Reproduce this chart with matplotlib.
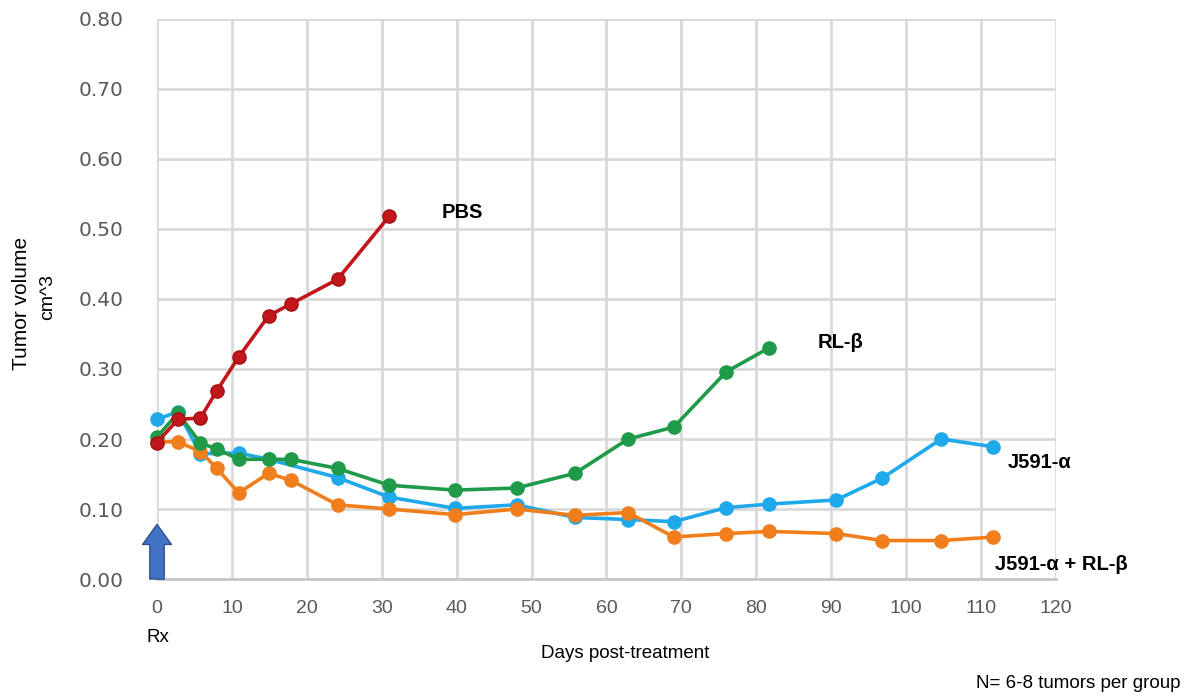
import matplotlib
matplotlib.use("Agg")
import matplotlib.pyplot as plt

# Data
days_pbs = [0, 2.8, 5.8, 8, 10.9, 14.9, 17.9, 24.1, 31]
pbs = [0.195, 0.228, 0.230, 0.269, 0.317, 0.376, 0.393, 0.428, 0.518]

days_rl = [0, 2.8, 5.8, 8, 10.9, 14.9, 17.9, 24.1, 31, 39.8, 48, 55.8, 62.9, 69, 76, 81.7]
rl = [0.203, 0.237, 0.194, 0.186, 0.171, 0.171, 0.171, 0.158, 0.134, 0.127, 0.130,
      0.151, 0.200, 0.217, 0.296, 0.330]

days_j = [0, 2.8, 5.8, 10.9, 14.9, 24.1, 31, 39.8, 48, 55.8, 62.9, 69, 76, 81.7,
          90.7, 96.8, 104.7, 111.6]
j591 = [0.228, 0.239, 0.179, 0.180, 0.171, 0.145, 0.117, 0.101, 0.106, 0.088, 0.085,
        0.082, 0.102, 0.107, 0.113, 0.144, 0.200, 0.189]

days_combo = [0, 2.8, 5.8, 8, 10.9, 14.9, 17.9, 24.1, 31, 39.8, 48, 55.8, 62.9, 69,
              76, 81.7, 90.7, 96.8, 104.7, 111.6]
combo = [0.196, 0.196, 0.182, 0.158, 0.123, 0.151, 0.141, 0.106, 0.100, 0.092, 0.100,
         0.091, 0.095, 0.060, 0.065, 0.068, 0.065, 0.055, 0.055, 0.060]

x_ticks = list(range(0, 121, 10))
y_ticks = [0.0, 0.1, 0.2, 0.3, 0.4, 0.5, 0.6, 0.7, 0.8]

fig = plt.figure(figsize=(11.85, 6.96), dpi=100)
ax = fig.add_axes([0.1325, 0.168, 0.891 - 0.1325, 0.973 - 0.168])

grid_c = "#d9d9d9"
ax.set_xlim(0, 120)
ax.set_ylim(0, 0.8)
ax.set_xticks(x_ticks)
ax.set_yticks(y_ticks)
ax.grid(True, color=grid_c, linewidth=2.0, zorder=0)
ax.set_axisbelow(True)
for s in ["top", "right", "left"]:
    ax.spines[s].set_visible(False)
ax.spines["bottom"].set_color("#c8c8c8")
ax.spines["bottom"].set_linewidth(2.0)
ax.tick_params(length=0)
ax.set_yticklabels([f"{v:.2f}" for v in y_ticks], fontsize=14.5, color="#595959",
                   family="DejaVu Sans")
ax.set_xticklabels([str(v) for v in x_ticks], fontsize=14, color="#595959",
                   family="Liberation Sans")
ax.tick_params(axis="y", pad=24)
ax.tick_params(axis="x", pad=15)

lw = 2.6
ms = 9.5
ax.plot(days_j, j591, "-o", color="#1fa9ea", lw=lw, ms=ms, clip_on=False, zorder=3)
ax.plot(days_combo, combo, "-o", color="#f07e1c", lw=lw, ms=ms, clip_on=False, zorder=4)
ax.plot(days_rl, rl, "-o", color="#1f9a48", lw=lw, ms=ms, clip_on=False, zorder=5)
ax.plot(days_pbs, pbs, "-o", color="#c3161c", mec="#a01010", lw=lw, ms=ms,
        clip_on=False, zorder=6)

# Rx arrow
ax.annotate("", xy=(0, 0.078), xytext=(0, 0.0),
            arrowprops=dict(arrowstyle="simple,head_length=0.9,head_width=1.3,tail_width=0.65",
                            fc="#4472c4", ec="#2f528f", lw=1, mutation_scale=16,
                            shrinkA=0, shrinkB=0), zorder=7)

bold = dict(fontsize=14.5, fontweight="bold", color="black", family="Liberation Sans",
            va="center", ha="left")
fig.text(442 / 1185, 1 - 212 / 696, "PBS", **bold)
fig.text(818 / 1185, 1 - 342 / 696, "RL-β", **bold)
fig.text(1008 / 1185, 1 - 463 / 696, "J591-α", **bold)
fig.text(995 / 1185, 1 - 565 / 696, "J591-α + RL-β", **bold)

fig.text(158 / 1185, 1 - 638 / 696, "Rx", fontsize=13.5, ha="center", va="center",
         family="Liberation Sans")
fig.text(625 / 1185, 1 - 653 / 696, "Days post-treatment", fontsize=13.5, ha="center",
         va="center", family="Liberation Sans")
fig.text(1181 / 1185, 1 - 683 / 696, "N= 6-8 tumors per group", fontsize=13.5,
         ha="right", va="center", family="Liberation Sans")
fig.text(22 / 1185, 1 - 303 / 696, "Tumor volume", fontsize=15, rotation=90,
         ha="center", va="center", family="Liberation Sans")
fig.text(48 / 1185, 1 - 297 / 696, "cm^3", fontsize=14, rotation=90,
         ha="center", va="center", family="Liberation Sans")

fig.savefig("out.png", dpi=100, facecolor="white")
